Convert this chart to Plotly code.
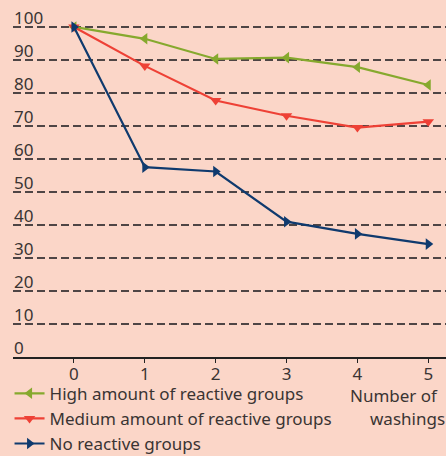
import plotly.graph_objects as go

washings = [0, 1, 2, 3, 4, 5]
high_reactive = [100, 96.4, 90.3, 90.7, 87.8, 82.4]
medium_reactive = [100, 88.2, 77.7, 73.1, 69.5, 71.3]
no_reactive = [100, 57.5, 56.2, 41.0, 37.3, 34.2]
y_ticks = [0, 10, 20, 30, 40, 50, 60, 70, 80, 90, 100]
x_title_lines = ["Number of", "washings"]

BG = "#fbd6c8"
FONT = "Noto Sans"
TXT = "#3a3433"
FS = 17
H = 456
TOP, BOTTOM = 20, 99
PLOT_H = H - TOP - BOTTOM

series = [
    ("High amount of reactive groups", high_reactive, "#86a92e", "triangle-left"),
    ("Medium amount of reactive groups", medium_reactive, "#ee4136", "triangle-down"),
    ("No reactive groups", no_reactive, "#0f3a6e", "triangle-right"),
]

fig = go.Figure()
for name, vals, color, sym in series:
    fig.add_trace(go.Scatter(
        x=washings, y=vals, name=name, mode="lines+markers",
        line=dict(color=color, width=2.2),
        marker=dict(symbol=sym, size=10, color=color),
        cliponaxis=False,
    ))

annotations = []
for v in y_ticks:
    annotations.append(dict(
        x=0, xref="paper", y=v, yref="y", text=str(v), showarrow=False,
        xanchor="left", yanchor="bottom", xshift=-1, yshift=-4,
        font=dict(family=FONT, size=FS, color=TXT),
    ))
# two-line x-axis caption, right-aligned under the last tick
for line, ypix, xs in zip(x_title_lines, [396, 419], [-6, 1]):
    annotations.append(dict(
        x=1, xref="paper", y=(H - BOTTOM - ypix) / PLOT_H, yref="paper", text=line,
        showarrow=False, xanchor="right", yanchor="middle", xshift=xs,
        font=dict(family=FONT, size=FS, color=TXT),
    ))

fig.update_layout(
    width=446, height=H,
    margin=dict(l=13, r=0, t=TOP, b=BOTTOM, autoexpand=False),
    paper_bgcolor=BG, plot_bgcolor=BG,
    font=dict(family=FONT, size=FS, color=TXT),
    showlegend=True,
    legend=dict(
        x=-0.008, xanchor="left", y=0.176, yref="container", yanchor="top",
        bgcolor="rgba(0,0,0,0)", borderwidth=0,
        font=dict(family=FONT, size=FS, color=TXT),
        tracegroupgap=0, itemwidth=30,
    ),
    annotations=annotations,
)
fig.update_xaxes(
    range=[-0.86, 5.25], tickvals=washings, showgrid=False, zeroline=False,
    showline=True, linecolor="#222", linewidth=1.5,
    ticks="outside", ticklen=4, tickcolor="#222", tickwidth=1.2,
    ticklabelstandoff=-3,
    tickfont=dict(family=FONT, size=FS, color=TXT),
)
fig.update_yaxes(
    range=[0, 102.1], tickvals=y_ticks[1:], showticklabels=False,
    showgrid=True, gridcolor="#4e4545", griddash="8px,4px", gridwidth=1.5,
    zeroline=False, showline=False,
)

fig.write_html("out.html")
